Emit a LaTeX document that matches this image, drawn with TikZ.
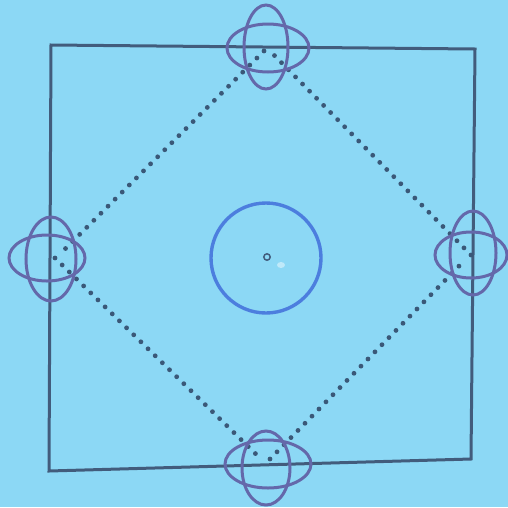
\documentclass[tikz,border=0pt]{standalone}
\definecolor{bg}{RGB}{140,216,245}
\definecolor{sqcol}{RGB}{66,92,124}
\definecolor{atomcol}{RGB}{100,104,170}
\definecolor{ringcol}{RGB}{76,126,222}
\definecolor{dotcol}{RGB}{58,88,120}
\begin{document}
\begin{tikzpicture}[x=1pt,y=-1pt,
  sqline/.style={draw=sqcol,line width=3pt,line join=miter},
  orbit/.style={draw=atomcol,line width=3pt},
  dotline/.style={draw=dotcol,line width=4.8pt,line cap=round,dash pattern=on 0pt off 10pt},
  ring/.style={draw=ringcol,line width=3.4pt}]
\useasboundingbox (0,0) rectangle (508,507);
\fill[bg] (0,0) rectangle (508,507);
% square
\coordinate (c1) at (51,45);
\coordinate (c2) at (475,49);
\coordinate (c3) at (471,459);
\coordinate (c4) at (49,471);
\draw[sqline] (c1) -- (c2) -- (c3) -- (c4) -- cycle;
% dotted diamond
\coordinate (tl) at (264,51);
\coordinate (tr) at (270,51);
\coordinate (lt) at (62,252);
\coordinate (lb) at (55,258);
\coordinate (bl) at (262,460);
\coordinate (br) at (270,459);
\coordinate (rt) at (471,255);
\coordinate (rb) at (463,262);
\draw[dotline] (tl) -- (lt);
\draw[dotline] (lb) -- (bl);
\draw[dotline] (br) -- (rb);
\draw[dotline] (rt) -- (tr);
% atoms
\draw[orbit] (266,47) ellipse [x radius=22, y radius=42];
\draw[orbit] (268,48) ellipse [x radius=41, y radius=24];
\draw[orbit] (51,259) ellipse [x radius=25, y radius=42];
\draw[orbit] (47,258) ellipse [x radius=38, y radius=23];
\draw[orbit] (473,253) ellipse [x radius=23, y radius=42];
\draw[orbit] (471,255) ellipse [x radius=36, y radius=23];
\draw[orbit] (266,468) ellipse [x radius=24, y radius=37];
\draw[orbit] (268,464) ellipse [x radius=43, y radius=24];
% centre
\draw[ring] (266,258) circle [radius=55];
\draw[draw=sqcol,line width=1.5pt] (267,257) circle [radius=3.2];
\fill[white,opacity=0.45] (281,265) ellipse [x radius=4, y radius=3];
\end{tikzpicture}
\end{document}
